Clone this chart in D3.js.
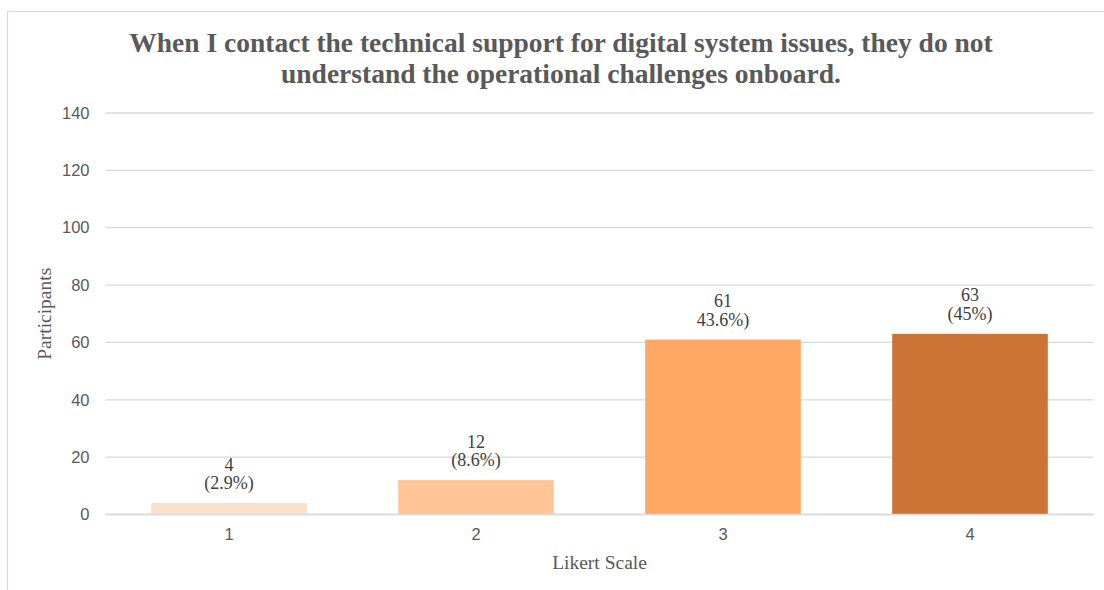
<!DOCTYPE html>
<html>
<head>
<meta charset="utf-8">
<script src="https://cdn.jsdelivr.net/npm/d3@7"></script>
<style>
  html, body { margin: 0; padding: 0; background: #fff; }
  svg { display: block; }
</style>
</head>
<body>
<svg id="chart" width="1104" height="590"></svg>
<script>
// Survey responses on a 4-point Likert scale
const categories = ["1", "2", "3", "4"];
const participants = [4, 12, 61, 63];
const shareLabels = ["(2.9%)", "(8.6%)", "43.6%)", "(45%)"];
const barColors = ["#fce0ca", "#ffc597", "#ffa764", "#cc7436"];
const yTicks = [0, 20, 40, 60, 80, 100, 120, 140];
const titleLines = [
  "When I contact the technical support for digital system issues, they do not",
  "understand the operational challenges onboard."
];

const svg = d3.select("#chart");

// outer chart frame
svg.append("rect")
  .attr("x", 7.5).attr("y", 11.5)
  .attr("width", 1110).attr("height", 600)
  .attr("fill", "none")
  .attr("stroke", "#d9d9d9")
  .attr("stroke-width", 1.2);

const plot = { left: 105.5, right: 1093.5, top: 113, bottom: 514.5 };

const x = d3.scaleBand()
  .domain(categories)
  .range([plot.left, plot.right])
  .paddingInner(0.37)
  .paddingOuter(0.185);

const y = d3.scaleLinear()
  .domain([0, 140])
  .range([plot.bottom, plot.top]);

// horizontal gridlines
svg.append("g")
  .selectAll("line")
  .data(yTicks)
  .join("line")
  .attr("x1", plot.left).attr("x2", plot.right)
  .attr("y1", d => y(d)).attr("y2", d => y(d))
  .attr("stroke", "#d9d9d9")
  .attr("stroke-width", 1.3);

// y axis tick labels
const yAxis = d3.axisLeft(y).tickValues(yTicks).tickSize(0).tickPadding(0);
svg.append("g")
  .attr("transform", `translate(${plot.left - 16},0)`)
  .call(yAxis)
  .call(g => g.select(".domain").remove())
  .call(g => g.selectAll("text")
    .attr("font-family", "'Liberation Sans', Arial, sans-serif")
    .attr("font-size", 16.5)
    .attr("fill", "#595959"));

// bars
svg.append("g")
  .selectAll("rect")
  .data(categories)
  .join("rect")
  .attr("x", d => x(d))
  .attr("width", x.bandwidth())
  .attr("y", (d, i) => y(participants[i]))
  .attr("height", (d, i) => y(0) - y(participants[i]))
  .attr("fill", (d, i) => barColors[i]);

// baseline drawn over bar bottoms
svg.append("line")
  .attr("x1", plot.left).attr("x2", plot.right)
  .attr("y1", y(0)).attr("y2", y(0))
  .attr("stroke", "#d9d9d9")
  .attr("stroke-width", 1.5);

// x axis tick labels
const xAxis = d3.axisBottom(x).tickSize(0).tickPadding(0);
svg.append("g")
  .attr("transform", `translate(0,${y(0) + 14})`)
  .call(xAxis)
  .call(g => g.select(".domain").remove())
  .call(g => g.selectAll("text")
    .attr("font-family", "'Liberation Sans', Arial, sans-serif")
    .attr("font-size", 16.5)
    .attr("fill", "#595959"));

// value labels above bars
const labels = svg.append("g")
  .selectAll("text")
  .data(categories)
  .join("text")
  .attr("text-anchor", "middle")
  .attr("font-family", "'Liberation Serif', 'Times New Roman', serif")
  .attr("font-size", 18)
  .attr("fill", "#404040");
labels.append("tspan")
  .attr("x", d => x(d) + x.bandwidth() / 2)
  .attr("y", (d, i) => y(participants[i]) - 32.5)
  .text((d, i) => participants[i]);
labels.append("tspan")
  .attr("x", d => x(d) + x.bandwidth() / 2)
  .attr("y", (d, i) => y(participants[i]) - 14)
  .text((d, i) => shareLabels[i]);

// axis titles
svg.append("text")
  .attr("x", (plot.left + plot.right) / 2)
  .attr("y", 568.5)
  .attr("text-anchor", "middle")
  .attr("font-family", "'Liberation Serif', 'Times New Roman', serif")
  .attr("font-size", 19.5)
  .attr("fill", "#595959")
  .text("Likert Scale");

svg.append("text")
  .attr("transform", `translate(51,${(plot.top + plot.bottom) / 2}) rotate(-90)`)
  .attr("text-anchor", "middle")
  .attr("font-family", "'Liberation Serif', 'Times New Roman', serif")
  .attr("font-size", 19.5)
  .attr("fill", "#595959")
  .text("Participants");

// chart title
svg.append("g")
  .selectAll("text")
  .data(titleLines)
  .join("text")
  .attr("x", 561)
  .attr("y", (d, i) => 52 + i * 31)
  .attr("text-anchor", "middle")
  .attr("font-family", "'Liberation Serif', 'Times New Roman', serif")
  .attr("font-weight", "bold")
  .attr("font-size", 27.5)
  .attr("fill", "#595959")
  .text(d => d);
</script>
</body>
</html>
